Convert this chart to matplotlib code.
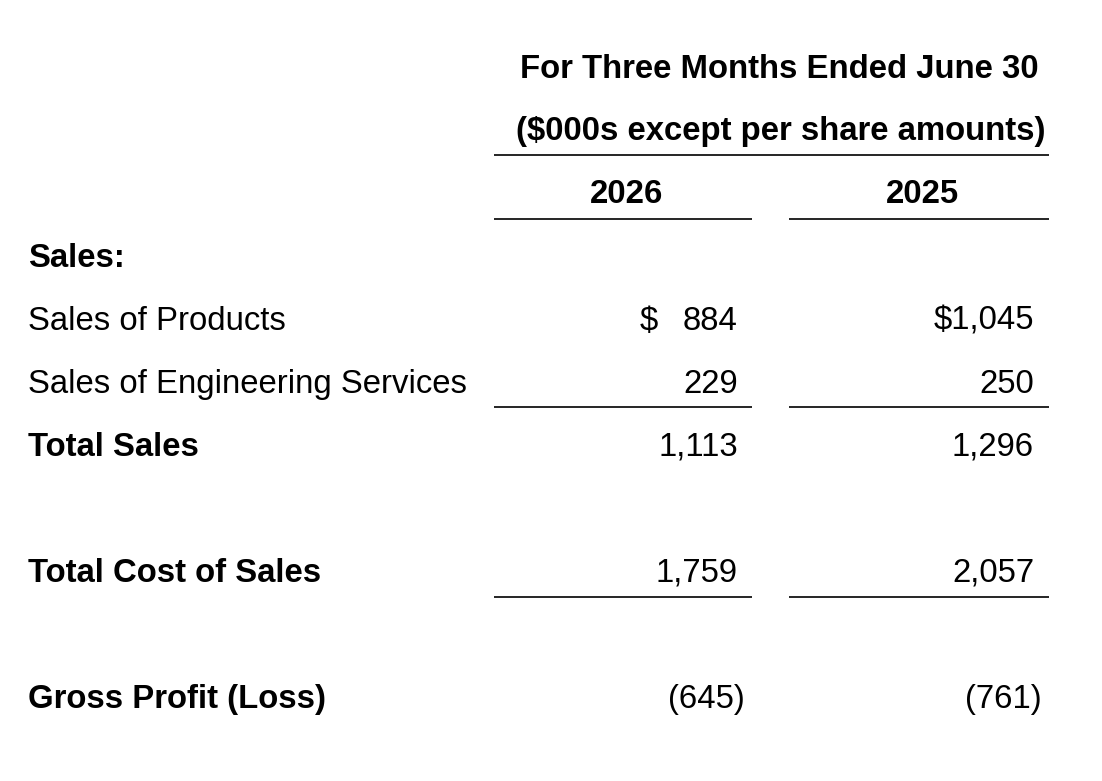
import matplotlib.pyplot as plt

plt.rcParams['font.family'] = ['Liberation Sans', 'DejaVu Sans']

# table content
title = 'For Three Months Ended June 30'
subtitle = '($000s except per share amounts)'
years = ['2026', '2025']
labels = ['Sales:', 'Sales of Products', 'Sales of Engineering Services',
          'Total Sales', 'Total Cost of Sales', 'Gross Profit (Loss)']
bold = [True, False, False, True, True, True]
col_2026 = ['', '884', '229', '1,113', '1,759', '(645)']
col_2025 = ['', '$1,045', '250', '1,296', '2,057', '(761)']
row_y = [267, 330, 393, 456, 582, 708]

fig = plt.figure(figsize=(11.02, 7.81), dpi=100)
ax = fig.add_axes([0, 0, 1, 1])
ax.set_xlim(0, 1102)
ax.set_ylim(781, 0)
ax.axis('off')

fs = 23.7

ax.text(779, 78, title, fontsize=fs, fontweight='bold', ha='center', va='baseline')
ax.text(781, 140, subtitle, fontsize=fs, fontweight='bold', ha='center', va='baseline')
ax.hlines(155, 494, 1049, color='black', lw=1.2)
ax.text(627, 203, years[0], fontsize=fs, fontweight='bold', ha='center', va='baseline')
ax.text(922, 203, years[1], fontsize=fs, fontweight='bold', ha='center', va='baseline')
ax.hlines(219, 494, 752, color='black', lw=1.2)
ax.hlines(219, 789, 1049, color='black', lw=1.2)

for lab, b, v1, v2, y in zip(labels, bold, col_2026, col_2025, row_y):
    w = 'bold' if b else 'normal'
    ax.text(28, y, lab, fontsize=fs, fontweight=w, ha='left', va='baseline')
    # parenthesised negatives hang past the column edge
    r1 = 745 if v1.startswith('(') else 738
    r2 = 1042 if v2.startswith('(') else 1034
    ax.text(r1, y, v1, fontsize=fs, ha='right', va='baseline')
    ax.text(r2, y, v2, fontsize=fs, ha='right', va='baseline')

ax.text(640, row_y[1], '$', fontsize=fs, ha='left', va='baseline')

# underlines below subtotals
for y in [407, 597]:
    ax.hlines(y, 494, 752, color='black', lw=1.2)
    ax.hlines(y, 789, 1049, color='black', lw=1.2)

fig.savefig('out.png', dpi=100)
